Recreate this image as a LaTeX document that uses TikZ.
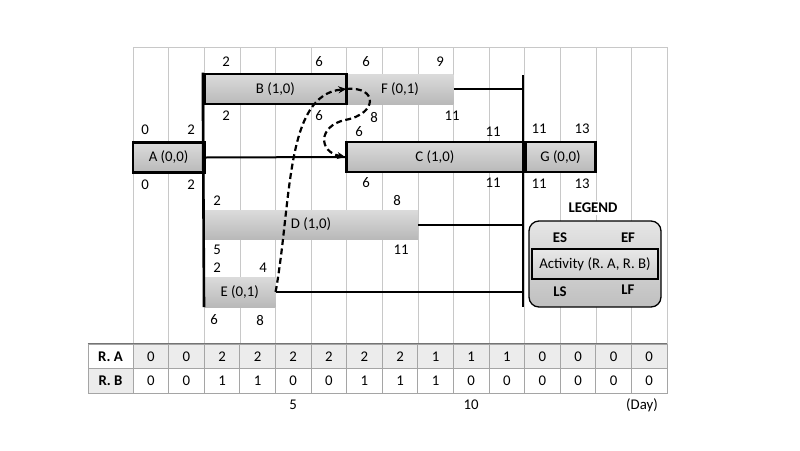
\documentclass[tikz,border=0pt]{standalone}
\usepackage{fontspec}
\setmainfont{Carlito}
\usetikzlibrary{arrows.meta, positioning, calc}
\definecolor{gridgray}{RGB}{200, 200, 200}
\definecolor{tablegray}{RGB}{165, 165, 165}
\definecolor{rowshade}{RGB}{236, 236, 236}

\begin{document}
\begin{tikzpicture}[
        x=1pt, y=-1pt,
        font=\fontsize{14.8}{17}\selectfont,
        activity/.style={rectangle, inner sep=0pt, minimum height=30pt, top color=gray!28, bottom color=gray!55},
        critical/.style={activity, draw=black, line width=2.8pt},
        num/.style={inner sep=1pt},
        link/.style={draw=black, line width=2pt},
        depend/.style={-{Stealth[length=8pt, width=7pt]}, dash pattern=on 6pt off 3.5pt, line width=2.2pt},
        cell/.style={rectangle, inner sep=0pt, minimum width=35.6pt, minimum height=24.5pt, draw=tablegray, line width=0.8pt}
    ]
        \useasboundingbox (0,0) rectangle (800,450);

        % Grid
        \draw[gridgray] (133,47) -- (667,47);
        \foreach \i in {0,...,15}
            \draw[gridgray] ({133+35.6*\i},47) -- ({133+35.6*\i},344);

        % Nodes
        \node[activity, minimum width=106.8pt] (actF) at (400,89) {F (0,1)};
        \node[critical, minimum width=142.4pt] (actB) at (275.4,89) {B (1,0)};
        \node[critical, minimum width=71.2pt] (actA) at (168.6,157.5) {A (0,0)};
        \node[critical, minimum width=176.4pt] (actC) at (434.8,157) {C (1,0)};
        \node[critical, minimum width=70pt] (actG) at (560.5,157) {G (0,0)};
        \node[activity, minimum width=213.6pt, minimum height=29pt] (actD) at (311,224.5) {D (1,0)};
        \node[activity, minimum width=71.2pt] (actE) at (239.8,292) {E (0,1)};
        \coordinate (joinTop) at (523,75);
        \coordinate (joinBot) at (523,307);

        % Times
        \node[num] (esA) at (145,130) {0};
        \node[num] (efA) at (191,130) {2};
        \node[num] (lsA) at (145,185) {0};
        \node[num] (lfA) at (191,185) {2};
        \node[num] (esB) at (226,62) {2};
        \node[num] (efB) at (319,62) {6};
        \node[num] (lsB) at (226,116) {2};
        \node[num] (lfB) at (319,116) {6};
        \node[num] (esF) at (366,62) {6};
        \node[num] (efF) at (440,62) {9};
        \node[num] (lsF) at (374,117) {8};
        \node[num] (lfF) at (452,116) {11};
        \node[num] (esC) at (359,132) {6};
        \node[num] (efC) at (493,132) {11};
        \node[num] (lsC) at (366,183) {6};
        \node[num] (lfC) at (493,183) {11};
        \node[num] (esG) at (539,129) {11};
        \node[num] (efG) at (582,129) {13};
        \node[num] (lsG) at (539,184) {11};
        \node[num] (lfG) at (582,184) {13};
        \node[num] (esD) at (217,201) {2};
        \node[num] (efD) at (397,200) {8};
        \node[num] (lsD) at (217,250) {5};
        \node[num] (lfD) at (401,250) {11};
        \node[num] (esE) at (217,268) {2};
        \node[num] (efE) at (263,268) {4};
        \node[num] (lsE) at (214,320) {6};
        \node[num] (lfE) at (260,320) {8};

        % Edges
        \draw[link] (actA.east) -- (actC.west);
        \draw[link, line width=2.6pt] (actB.north west) -- (actE.south west);
        \draw[link, line width=2.6pt] (joinTop) -- (joinBot);
        \draw[link] (actF.east) -- (actF.east -| joinTop);
        \draw[link] (actD.east) -- (actD.east -| joinTop);
        \draw[link] (actE.east) -- (actE.east -| joinTop);
        \draw[depend] (actE.east) .. controls (292,200) and (285,95) .. (actF.west);
        \draw[depend] (actF.west) .. controls (378,86) and (378,114) .. (345,120) .. controls (318,126) and (318,152) .. (actC.west);

        % Legend
        \node[fill=white, inner sep=2pt, font=\fontsize{14.8}{17}\selectfont\bfseries] (legTitle) at (593,208) {LEGEND};
        \node[rectangle, rounded corners=10pt, draw=black, line width=1.3pt, top color=gray!20, bottom color=gray!50, minimum width=132pt, minimum height=86pt] (legend) at (595,264) {};
        \node[critical, line width=2.2pt, minimum width=126pt, top color=gray!18, bottom color=gray!40] (legAct) at (595,264) {Activity (R. A, R. B)};
        \node[num, font=\fontsize{14.8}{17}\selectfont\bfseries] (legES) at (560,238) {ES};
        \node[num, font=\fontsize{14.8}{17}\selectfont\bfseries] (legEF) at (628,238) {EF};
        \node[num, font=\fontsize{14.8}{17}\selectfont\bfseries] (legLS) at (560,292) {LS};
        \node[num, font=\fontsize{14.8}{17}\selectfont\bfseries] (legLF) at (628,290) {LF};

        % Resource table
        \node[cell, minimum width=45pt, font=\fontsize{14.8}{17}\selectfont\bfseries] (labRA) at (110.5,356.25) {R. A};
        \node[cell, minimum width=45pt, fill=rowshade, font=\fontsize{14.8}{17}\selectfont\bfseries] (labRB) at (110.5,380.75) {R. B};
        \foreach \v [count=\i from 0] in {0,0,2,2,2,2,2,2,1,1,1,0,0,0,0}
            \node[cell, fill=rowshade] (ra\i) at ({150.8+35.6*\i},356.25) {\v};
        \foreach \v [count=\i from 0] in {0,0,1,1,0,0,1,1,1,0,0,0,0,0,0}
            \node[cell] (rb\i) at ({150.8+35.6*\i},380.75) {\v};
        \draw[tablegray!70!black, line width=1.4pt] (labRA.north west) -- (ra14.north east);

        % Days
        \node[num] (day5) at (293.2,405) {5};
        \node[num] (day10) at (471,405) {10};
        \node[num] (dayEnd) at (642,405) {(Day)};

    \end{tikzpicture}
\end{document}
